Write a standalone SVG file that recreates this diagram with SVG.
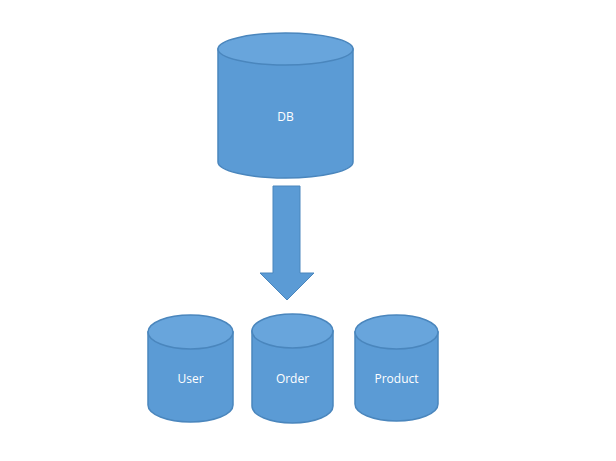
<svg xmlns="http://www.w3.org/2000/svg" width="616" height="461" viewBox="0 0 616 461">
<style>
.body{fill:#5b9bd5;stroke:#4a86bd;stroke-width:1.5}
.top{fill:#68a5dc;stroke:#4a86bd;stroke-width:1.5}
.lbl{fill:#ffffff;font-family:"Open Sans","Liberation Sans",sans-serif;font-size:12px;text-anchor:middle}
</style>
<rect width="616" height="461" fill="#ffffff"/>
<g id="db">
<path class="body" d="M218,49 L218,162 A67.5,16 0 0 0 353,162 L353,49 Z"/>
<ellipse class="top" cx="285.5" cy="49" rx="67.5" ry="16"/>
<text class="lbl" x="285.5" y="121">DB</text>
</g>
<g id="connectors">
<path d="M273,186 L300,186 L300,273 L314,273 L287,300 L260,273 L273,273 Z" fill="#5b9bd5" stroke="#4a86bd" stroke-width="1"/>
</g>
<g id="user">
<path class="body" d="M148,332 L148,405 A42.5,17 0 0 0 233,405 L233,332 Z"/>
<ellipse class="top" cx="190.5" cy="332" rx="42.5" ry="17"/>
<text class="lbl" x="190.5" y="383">User</text>
</g>
<g id="order">
<path class="body" d="M252,331 L252,406 A40.5,17 0 0 0 333,406 L333,331 Z"/>
<ellipse class="top" cx="292.5" cy="331" rx="40.5" ry="17"/>
<text class="lbl" x="292.5" y="383">Order</text>
</g>
<g id="product">
<path class="body" d="M355,332 L355,404 A41.5,17 0 0 0 438,404 L438,332 Z"/>
<ellipse class="top" cx="396.5" cy="332" rx="41.5" ry="17"/>
<text class="lbl" x="396.5" y="383">Product</text>
</g>
</svg>
